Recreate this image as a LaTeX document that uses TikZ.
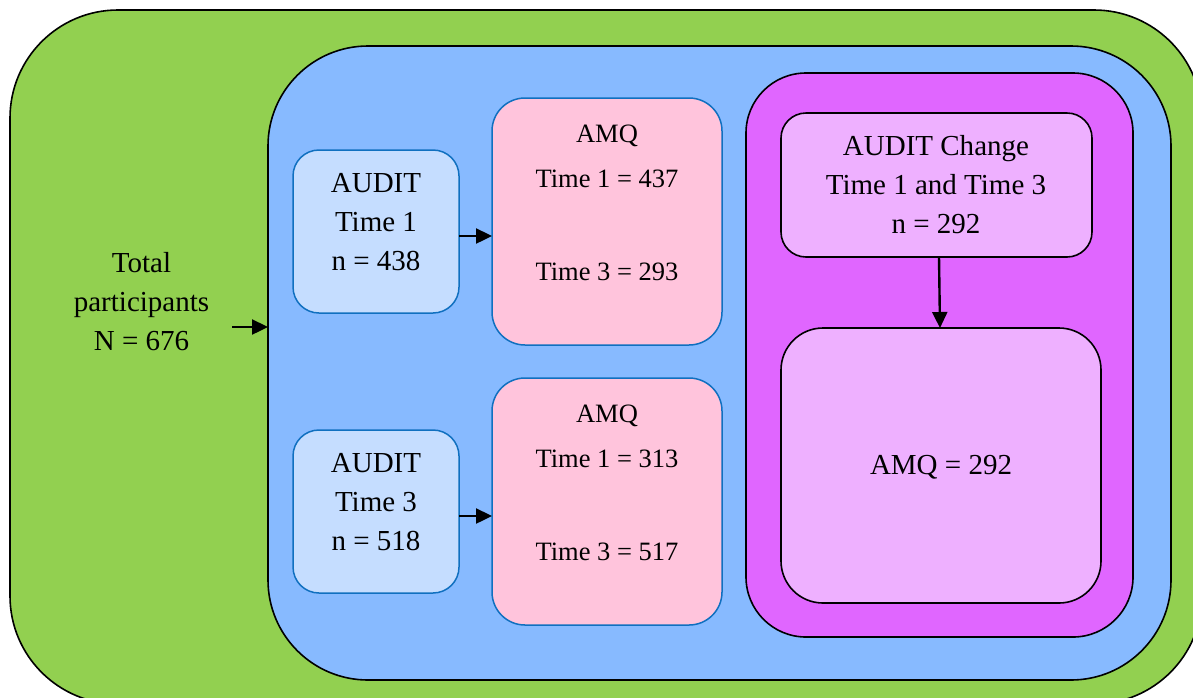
\documentclass[tikz,border=0pt]{standalone}
\usepackage{fontspec}
\setmainfont{Liberation Serif}
\usetikzlibrary{arrows.meta}
\definecolor{cgreen}{HTML}{92D050}
\definecolor{cblue}{HTML}{87BAFF}
\definecolor{clblue}{HTML}{C5DDFF}
\definecolor{cbord}{HTML}{1070C0}
\definecolor{cpink}{HTML}{FFC4DC}
\definecolor{cmag}{HTML}{E066FF}
\definecolor{clmag}{HTML}{EEB0FF}
\begin{document}
\begin{tikzpicture}[x=1pt,y=-1pt,
  region/.style={draw=black, line width=1.6pt, rectangle, inner sep=0pt, outer sep=0pt, anchor=north west},
  bluebox/.style={draw=cbord, line width=1.5pt, fill=clblue, rectangle, inner sep=0pt, outer sep=0pt, anchor=north west},
  pinkbox/.style={draw=cbord, line width=1.5pt, fill=cpink, rectangle, inner sep=0pt, outer sep=0pt, anchor=north west},
  bigtext/.style={font=\fontsize{29}{39}\selectfont, align=center, inner sep=0pt},
  smalltext/.style={font=\fontsize{26.5}{36}\selectfont, inner sep=0pt, anchor=base},
  arr/.style={line width=2.4pt, -{Triangle[length=16pt,width=15pt]}}
]
\useasboundingbox (0,0) rectangle (1193,697);
% containers
\node[region, fill=cgreen, rounded corners=108pt, minimum width=1192pt, minimum height=694pt] (green) at (10,10) {};
\node[region, fill=cblue, rounded corners=100pt, minimum width=903pt, minimum height=634pt] (blue) at (268,46) {};
\node[region, fill=cmag, rounded corners=60pt, minimum width=387pt, minimum height=564pt] (mag) at (746,73) {};
% boxes
\node[bluebox, rounded corners=26pt, minimum width=166pt, minimum height=163pt] (a1) at (293,150) {};
\node[bluebox, rounded corners=26pt, minimum width=166pt, minimum height=163pt] (a3) at (293,430) {};
\node[pinkbox, rounded corners=33pt, minimum width=230pt, minimum height=247pt] (q1) at (492,98) {};
\node[pinkbox, rounded corners=33pt, minimum width=230pt, minimum height=247pt] (q3) at (492,378) {};
\node[region, fill=clmag, rounded corners=25pt, minimum width=311pt, minimum height=144pt] (chg) at (781,113) {};
\node[region, fill=clmag, rounded corners=42pt, minimum width=320pt, minimum height=275pt] (amqf) at (781,328) {};
% texts
\node[bigtext] (tptext) at (141.5,301.7) {Total\\participants\\N = 676};
\node[bigtext] (a1text) at (376,222.4) {AUDIT\\Time 1\\n = 438};
\node[bigtext] (a3text) at (376,502.4) {AUDIT\\Time 3\\n = 518};
\node[bigtext] (chgtext) at (936,184.6) {AUDIT Change\\Time 1 and Time 3\\n = 292};
\node[bigtext, anchor=base] (amqftext) at (941,474) {AMQ = 292};
\node[smalltext] (q1a) at (607,142) {AMQ};
\node[smalltext] (q1b) at (607,187) {Time 1 = 437};
\node[smalltext] (q1c) at (607,280) {Time 3 = 293};
\node[smalltext] (q3a) at (607,422) {AMQ};
\node[smalltext] (q3b) at (607,467) {Time 1 = 313};
\node[smalltext] (q3c) at (607,560) {Time 3 = 517};
% connectors
\coordinate (tpstart) at (232,327);
\draw[arr] (tpstart) -- (tpstart -| blue.west);
\draw[arr] ([yshift=-4.5pt]a1.east) -- ([yshift=-4.5pt]a1.east -| q1.west);
\draw[arr] ([yshift=-4.5pt]a3.east) -- ([yshift=-4.5pt]a3.east -| q3.west);
\draw[arr] ([xshift=2.5pt]chg.south) -- ([xshift=-1pt]amqf.north);
\end{tikzpicture}
\end{document}
